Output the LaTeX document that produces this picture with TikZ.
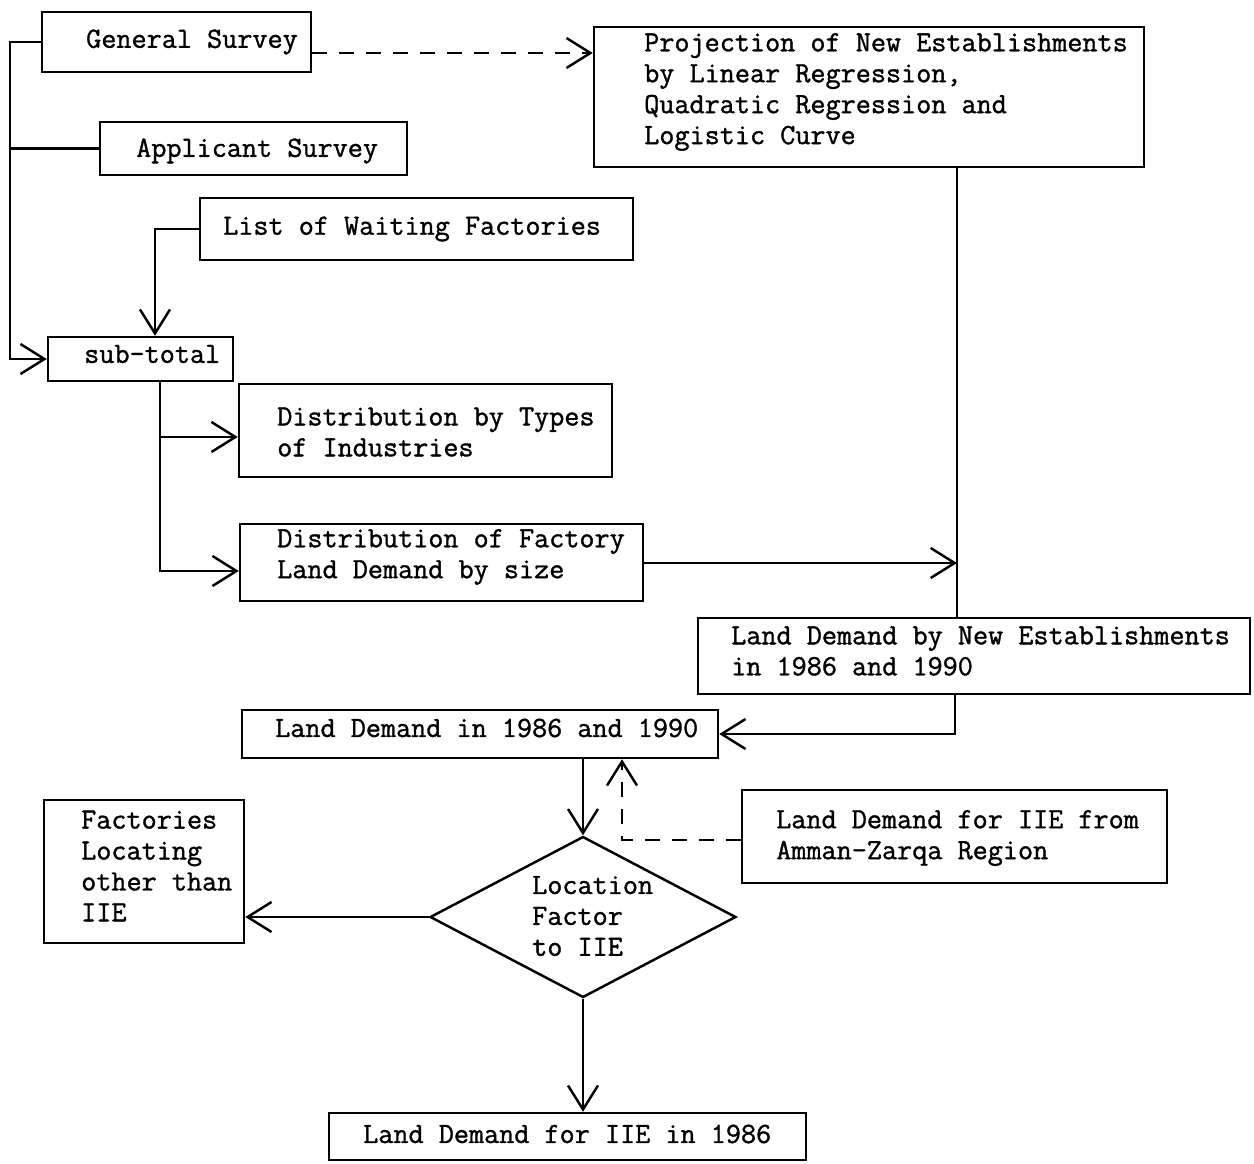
\documentclass[tikz,border=0pt]{standalone}
\usepackage{fontspec}
\setmonofont{Latin Modern Mono}[FakeBold=1.2]
\usetikzlibrary{arrows.meta,shapes.geometric}
\begin{document}
\begin{tikzpicture}[x=0.02cm,y=-0.02cm,
  line width=1.4pt,
  >={Straight Barb[length=0.48cm,width=0.6cm,line width=1.4pt]},
  box/.style 2 args={draw,rectangle,inner sep=0pt,minimum width=#1*0.02cm,minimum height=#2*0.02cm},
  txt/.style={inner sep=0pt,anchor=west,align=left,font=\ttfamily\fontsize{16.7}{17.6}\selectfont},
  dsh/.style={dash pattern=on 0.3cm off 0.24cm}]
\useasboundingbox (0,0) rectangle (1254,1163);
% boxes
\node[box={269}{60}] (gen) at (176.5,42) {};
\node[box={307}{53}] (app) at (253.5,148.5) {};
\node[box={433}{62}] (list) at (416.5,229) {};
\node[box={185}{44}] (sub) at (140.5,359) {};
\node[box={373}{93}] (types) at (425.5,430.5) {};
\node[box={403}{77}] (fact) at (441.5,562.5) {};
\node[box={550}{140}] (proj) at (869,97) {};
\node[box={552}{76}] (new) at (974,656) {};
\node[box={476}{48}] (ld) at (480,734) {};
\node[box={425}{93}] (amman) at (954.5,836.5) {};
\node[box={200}{143}] (other) at (144,871.5) {};
\node[draw,diamond,inner sep=0pt,minimum width=306*0.02cm,minimum height=161*0.02cm] (dia) at (583,917) {};
\node[box={477}{47}] (iie) at (567.5,1136.5) {};
% texts
\node[txt] (gen-t) at (85,42) {General Survey};
\node[txt] (app-t) at (135,151) {Applicant Survey};
\node[txt] (list-t) at (222,229) {List of Waiting Factories};
\node[txt] (sub-t) at (83,354) {sub-total};
\node[txt] (types-t) at (276,432) {Distribution by Types\\of Industries};
\node[txt] (fact-t) at (276,557) {Distribution of Factory\\Land Demand by size};
\node[txt] (proj-t) at (643,92) {Projection of New Establishments\\by Linear Regression,\\Quadratic Regression and\\Logistic Curve};
\node[txt] (new-t) at (730,651) {Land Demand by New Establishments\\in 1986 and 1990};
\node[txt] (ld-t) at (274,728) {Land Demand in 1986 and 1990};
\node[txt] (amman-t) at (775,838) {Land Demand for IIE from\\Amman-Zarqa Region};
\node[txt] (other-t) at (80,866) {Factories\\Locating\\other than\\IIE};
\node[txt] (dia-t) at (531,916) {Location\\Factor\\to IIE};
\node[txt] (iie-t) at (362,1134) {Land Demand for IIE in 1986};
% connectors
\draw[->,dsh] (gen.east |- 0,53) -- (proj.west |- 0,53);
\draw[->] (gen.west) -- (10,42) |- (sub.west);
\draw (app.west) -- (10,148.5);
\draw[->] (list.west) -| (sub.north -| 155,0);
\draw[->] (sub.south -| 160,0) |- (types.west |- 0,437);
\draw[->] (160,437) |- (fact.west |- 0,571);
\draw (proj.south -| 957,0) -- (new.north -| 957,0);
\draw[->] (fact.east |- 0,563) -- (957,563);
\draw[->] (new.south -| 955,0) |- (ld.east);
\draw[->] (ld.south -| dia.north) -- (dia.north);
\draw[->,dsh] (amman.west |- 0,840) -| (ld.south -| 622,0);
\draw[->] (dia.west) -- (other.east |- dia.west);
\draw[->] (dia.south) -- (iie.north -| dia.south);
\end{tikzpicture}
\end{document}
